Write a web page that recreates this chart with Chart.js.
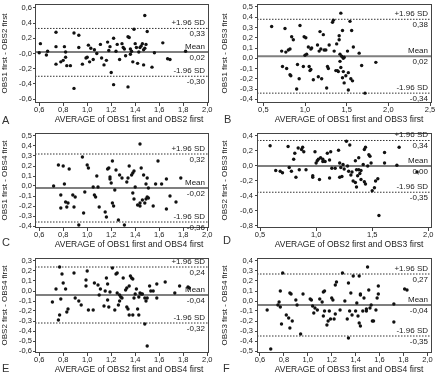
<!DOCTYPE html>
<html>
<head>
<meta charset="utf-8">
<script src="https://cdn.jsdelivr.net/npm/chart.js@4.4.1/dist/chart.umd.min.js"></script>
<style>
  html, body { margin: 0; padding: 0; background: #fff; }
  #wrap { position: relative; width: 440px; height: 378px; overflow: hidden; }
  .cell { position: absolute; width: 220px; height: 125px; }
  .cell canvas { display: block; }
  .tag { position: absolute; font: 11px "Liberation Sans", Arial, sans-serif; line-height: 11px; color: #333; }
</style>
</head>
<body>
<div id="wrap">
  <div class="cell" style="left:0;top:0"><canvas id="cA" width="220" height="125"></canvas></div>
  <div class="cell" style="left:220px;top:0"><canvas id="cB" width="220" height="125"></canvas></div>
  <div class="cell" style="left:0;top:125px"><canvas id="cC" width="220" height="125"></canvas></div>
  <div class="cell" style="left:220px;top:125px"><canvas id="cD" width="220" height="125"></canvas></div>
  <div class="cell" style="left:0;top:250px"><canvas id="cE" width="220" height="125"></canvas></div>
  <div class="cell" style="left:220px;top:250px"><canvas id="cF" width="220" height="125"></canvas></div>
  <div class="tag" style="left:2px;top:115px">A</div>
  <div class="tag" style="left:224px;top:114px">B</div>
  <div class="tag" style="left:2px;top:237px">C</div>
  <div class="tag" style="left:223px;top:235px">D</div>
  <div class="tag" style="left:2px;top:363px">E</div>
  <div class="tag" style="left:223px;top:363px">F</div>
</div>
<script>
// differences vs averages, [average, difference]
const pointsA = [
  [0.61, 0.13], [0.60, 0.01], [0.66, -0.02], [0.67, 0.03], [0.74, 0.28], [0.74, 0.09], [0.74, -0.14],
  [0.78, -0.11], [0.80, -0.09], [0.81, 0.09], [0.82, 0.02], [0.82, -0.05], [0.83, -0.16], [0.86, -0.16],
  [0.89, -0.46], [0.89, 0.27], [0.93, 0.24], [0.93, 0.08], [0.96, -0.14], [0.99, -0.06], [1.00, -0.05],
  [1.01, 0.11], [1.02, -0.11], [1.03, 0.07], [1.05, -0.08], [1.06, 0.05], [1.08, 0.00], [1.11, 0.12],
  [1.12, -0.06], [1.14, -0.15], [1.16, -0.09], [1.17, 0.15], [1.18, 0.04], [1.19, 0.09], [1.20, -0.25],
  [1.22, -0.41], [1.22, 0.20], [1.24, 0.03], [1.25, 0.12], [1.27, -0.08], [1.29, 0.13], [1.30, 0.08],
  [1.31, 0.06], [1.32, -0.03], [1.34, -0.44], [1.34, 0.22], [1.35, 0.21], [1.36, 0.06], [1.36, -0.01],
  [1.37, 0.03], [1.38, -0.11], [1.39, 0.32], [1.40, 0.13], [1.41, 0.08], [1.42, -0.13], [1.43, 0.02],
  [1.44, 0.08], [1.45, 0.10], [1.46, 0.13], [1.47, -0.15], [1.47, 0.05], [1.48, 0.50], [1.48, 0.07],
  [1.49, 0.12], [1.50, 0.29], [1.54, -0.18], [1.56, 0.01], [1.63, 0.14], [1.67, -0.07], [1.69, -0.08],
  [1.82, 0.03]
];
const pointsB = [
  [0.60, 0.31], [0.72, 0.07], [0.73, -0.08], [0.76, 0.29], [0.77, 0.06], [0.78, -0.10], [0.80, 0.08],
  [0.82, 0.09], [0.82, -0.16], [0.83, -0.17], [0.84, 0.21], [0.86, 0.18], [0.90, -0.30], [0.91, -0.06],
  [0.93, -0.20], [0.94, 0.32], [0.98, -0.08], [0.99, 0.21], [1.00, 0.03], [1.01, 0.20], [1.02, 0.04],
  [1.04, 0.11], [1.05, -0.08], [1.06, -0.12], [1.07, 0.09], [1.08, 0.10], [1.07, -0.11], [1.10, -0.21],
  [1.15, 0.13], [1.16, -0.18], [1.17, 0.07], [1.18, 0.26], [1.19, 0.09], [1.20, -0.20], [1.22, 0.23],
  [1.23, 0.08], [1.25, 0.08], [1.26, -0.29], [1.27, -0.08], [1.28, -0.10], [1.29, 0.13], [1.33, 0.35],
  [1.34, 0.37], [1.35, 0.07], [1.37, -0.12], [1.38, 0.14], [1.39, -0.12], [1.40, -0.13], [1.41, 0.22],
  [1.41, 0.18], [1.42, -0.03], [1.42, 0.04], [1.43, 0.44], [1.43, -0.09], [1.44, 0.02], [1.45, 0.27],
  [1.45, -0.19], [1.46, 0.00], [1.46, -0.13], [1.47, 0.01], [1.47, -0.24], [1.49, -0.17], [1.51, 0.07],
  [1.52, -0.14], [1.52, -0.31], [1.54, 0.36], [1.55, -0.20], [1.56, 0.27], [1.57, -0.22], [1.58, 0.11],
  [1.65, 0.05], [1.68, -0.07], [1.72, -0.34], [1.85, -0.04]
];
const pointsC = [
  [0.72, 0.00], [0.76, 0.21], [0.78, -0.09], [0.78, -0.22], [0.80, 0.20], [0.81, 0.02], [0.82, -0.16],
  [0.83, -0.21], [0.84, -0.17], [0.85, 0.17], [0.88, -0.09], [0.89, -0.21], [0.90, -0.11], [0.93, -0.39],
  [0.96, 0.29], [0.97, -0.27], [0.98, -0.06], [1.00, 0.21], [1.01, 0.18], [1.05, -0.01], [1.06, -0.09],
  [1.07, -0.11], [1.08, 0.10], [1.09, -0.01], [1.10, -0.21], [1.15, -0.26], [1.16, -0.31], [1.17, 0.17],
  [1.18, 0.18], [1.19, 0.09], [1.19, 0.07], [1.20, 0.03], [1.21, 0.25], [1.21, -0.17], [1.22, -0.20],
  [1.23, -0.04], [1.24, 0.16], [1.26, -0.34], [1.27, 0.11], [1.29, 0.08], [1.31, -0.39], [1.33, 0.04],
  [1.34, 0.08], [1.35, 0.20], [1.37, 0.11], [1.38, 0.13], [1.38, -0.07], [1.39, -0.13], [1.39, 0.15],
  [1.40, -0.01], [1.42, -0.19], [1.44, 0.42], [1.44, -0.17], [1.44, -0.20], [1.45, 0.18], [1.46, -0.14],
  [1.47, 0.11], [1.48, -0.17], [1.49, 0.02], [1.49, -0.13], [1.50, -0.11], [1.50, 0.08], [1.51, -0.12],
  [1.51, -0.02], [1.55, -0.20], [1.57, 0.02], [1.59, 0.25], [1.62, 0.02], [1.66, 0.07], [1.66, -0.23],
  [1.69, -0.10], [1.74, -0.16], [1.78, 0.08]
];
const pointsD = [
  [0.59, 0.27], [0.64, -0.06], [0.68, -0.07], [0.70, -0.09], [0.75, 0.26], [0.76, -0.02], [0.78, -0.07],
  [0.80, 0.09], [0.81, 0.17], [0.82, -0.15], [0.84, 0.24], [0.85, -0.05], [0.87, 0.22], [0.88, 0.25],
  [0.89, 0.19], [0.91, -0.05], [0.97, -0.13], [0.97, -0.15], [0.99, 0.19], [1.00, 0.04], [1.01, 0.07],
  [1.02, 0.09], [1.03, -0.18], [1.04, 0.11], [1.06, 0.06], [1.06, 0.09], [1.08, 0.06], [1.10, 0.17],
  [1.12, 0.08], [1.12, -0.16], [1.13, 0.19], [1.14, -0.03], [1.17, -0.03], [1.20, 0.21], [1.21, 0.04],
  [1.21, -0.15], [1.22, -0.02], [1.23, -0.14], [1.24, 0.02], [1.25, -0.04], [1.27, 0.33], [1.28, 0.00],
  [1.29, -0.07], [1.30, 0.28], [1.31, -0.12], [1.32, -0.08], [1.33, -0.20], [1.35, 0.07], [1.35, -0.22],
  [1.36, -0.05], [1.36, -0.28], [1.37, -0.13], [1.38, 0.11], [1.38, -0.05], [1.39, -0.10], [1.40, -0.18],
  [1.40, -0.06], [1.42, 0.02], [1.43, -0.21], [1.43, 0.22], [1.44, 0.25], [1.44, -0.24], [1.46, 0.00],
  [1.47, 0.15], [1.48, 0.13], [1.49, 0.04], [1.50, -0.33], [1.52, -0.29], [1.53, -0.20], [1.55, -0.17],
  [1.56, -0.66], [1.61, 0.18], [1.61, 0.04], [1.72, 0.01], [1.74, 0.25], [1.90, -0.08]
];
const pointsE = [
  [0.71, -0.11], [0.74, 0.02], [0.76, -0.29], [0.77, -0.24], [0.77, 0.24], [0.78, -0.08], [0.79, 0.17],
  [0.80, 0.08], [0.82, 0.02], [0.83, -0.21], [0.84, -0.18], [0.89, 0.18], [0.90, -0.07], [0.93, -0.10],
  [0.95, -0.14], [0.99, 0.05], [0.99, 0.11], [1.00, 0.20], [1.01, -0.19], [1.05, -0.19], [1.06, 0.08],
  [1.09, 0.06], [1.10, -0.04], [1.11, 0.02], [1.14, -0.15], [1.15, 0.00], [1.16, 0.13], [1.17, 0.07],
  [1.17, -0.09], [1.18, -0.16], [1.19, -0.01], [1.21, 0.23], [1.23, -0.19], [1.24, 0.17], [1.25, 0.18],
  [1.25, -0.02], [1.26, -0.14], [1.27, -0.04], [1.27, -0.10], [1.28, -0.06], [1.29, -0.07], [1.30, 0.13],
  [1.32, 0.01], [1.33, -0.16], [1.33, 0.03], [1.34, -0.18], [1.35, -0.24], [1.35, 0.05], [1.36, 0.15],
  [1.37, 0.13], [1.38, 0.12], [1.38, -0.24], [1.39, -0.07], [1.40, -0.03], [1.41, 0.02], [1.42, -0.18],
  [1.43, -0.24], [1.43, -0.06], [1.44, -0.02], [1.45, -0.03], [1.46, -0.03], [1.48, -0.33], [1.48, -0.07],
  [1.49, -0.10], [1.50, -0.55], [1.50, -0.07], [1.52, 0.05], [1.53, 0.00], [1.55, 0.00], [1.58, -0.07],
  [1.58, 0.07], [1.65, 0.09], [1.73, -0.02], [1.77, 0.05], [1.84, 0.04], [1.85, 0.03]
];
const pointsF = [
  [0.66, -0.09], [0.69, -0.48], [0.75, -0.04], [0.76, -0.01], [0.77, -0.06], [0.77, 0.10], [0.78, -0.23],
  [0.79, 0.28], [0.82, -0.14], [0.84, -0.17], [0.85, -0.27], [0.85, 0.08], [0.86, 0.07], [0.87, -0.20],
  [0.90, 0.01], [0.91, -0.04], [0.94, -0.33], [0.96, 0.07], [1.02, 0.02], [1.03, 0.01], [1.04, -0.05],
  [1.05, -0.12], [1.06, -0.07], [1.08, -0.09], [1.10, 0.02], [1.12, -0.01], [1.13, -0.15], [1.13, 0.09],
  [1.14, 0.10], [1.14, -0.10], [1.16, -0.24], [1.17, -0.20], [1.18, -0.10], [1.19, -0.18], [1.20, 0.03],
  [1.21, 0.01], [1.22, -0.18], [1.23, -0.13], [1.23, 0.16], [1.24, 0.19], [1.27, -0.09], [1.29, 0.28],
  [1.31, 0.00], [1.33, -0.18], [1.34, -0.37], [1.34, 0.18], [1.35, -0.10], [1.36, 0.08], [1.37, -0.14],
  [1.38, 0.25], [1.40, -0.10], [1.41, -0.02], [1.42, -0.15], [1.43, 0.25], [1.43, -0.22], [1.44, -0.25],
  [1.44, 0.07], [1.44, 0.06], [1.46, -0.10], [1.47, 0.03], [1.49, -0.10], [1.49, -0.08], [1.50, 0.34],
  [1.51, 0.11], [1.52, -0.07], [1.53, -0.04], [1.54, -0.20], [1.55, -0.20], [1.57, -0.09], [1.58, 0.03],
  [1.59, 0.15], [1.59, 0.07], [1.72, -0.21], [1.72, -0.03], [1.81, 0.12], [1.83, 0.11]
];

// [+1.96 SD, mean, -1.96 SD]
const limitsA = [0.33, 0.02, -0.30];
const limitsB = [0.38, 0.02, -0.34];
const limitsC = [0.32, -0.02, -0.36];
const limitsD = [0.34, 0.00, -0.35];
const limitsE = [0.24, -0.04, -0.32];
const limitsF = [0.27, -0.04, -0.35];
const limitNames = ['+1.96 SD', 'Mean', '-1.96 SD'];

const xTicksFine = [0.6, 0.8, 1.0, 1.2, 1.4, 1.6, 1.8, 2.0];
const xTicksB = [0.5, 1.0, 1.5, 2.0, 2.5];
const xTicksD = [0.5, 1.0, 1.5, 2.0];
const yTicksA = [-0.6, -0.4, -0.2, 0, 0.2, 0.4, 0.6];
const yTicksB = [-0.4, -0.3, -0.2, -0.1, 0, 0.1, 0.2, 0.3, 0.4, 0.5];
const yTicksC = [-0.4, -0.3, -0.2, -0.1, 0, 0.1, 0.2, 0.3, 0.4, 0.5];
const yTicksD = [-0.8, -0.6, -0.4, -0.2, 0, 0.2, 0.4];
const yTicksE = [-0.6, -0.5, -0.4, -0.3, -0.2, -0.1, 0, 0.1, 0.2, 0.3];
const yTicksF = [-0.5, -0.4, -0.3, -0.2, -0.1, 0, 0.1, 0.2, 0.3, 0.4];

const FONT = '"Liberation Sans", Arial, sans-serif';
const fmt = (v, d) => v.toFixed(d).replace('.', ',');

const panels = [
  { id: 'cA', pts: pointsA, limits: limitsA, xTicks: xTicksFine, yTicks: yTicksA, zero: '-0,0',
    x: [0.565, 2.015], y: [-0.652, 0.652], left: 35, right: 209, top: 3,
    xTitle: 'AVERAGE of OBS1 first and OBS2 first', yTitle: 'OBS1 first - OBS2 first' },
  { id: 'cB', pts: pointsB, limits: limitsB, xTicks: xTicksB, yTicks: yTicksB, zero: '0,0',
    x: [0.424, 2.524], y: [-0.436, 0.529], left: 37, right: 212, top: 3,
    xTitle: 'AVERAGE of OBS1 first and OBS3 first', yTitle: 'OBS1 first - OBS3 first' },
  { id: 'cC', pts: pointsC, limits: limitsC, xTicks: xTicksFine, yTicks: yTicksC, zero: '0,0',
    x: [0.565, 2.015], y: [-0.42, 0.53], left: 35, right: 209, top: 8,
    xTitle: 'AVERAGE of OBS1 first and OBS4 first', yTitle: 'OBS1 first - OBS4 first' },
  { id: 'cD', pts: pointsD, limits: limitsD, xTicks: xTicksD, yTicks: yTicksD, zero: '0,0',
    x: [0.473, 2.033], y: [-0.827, 0.44], left: 37, right: 212, top: 8,
    xTitle: 'AVERAGE of OBS2 first and OBS3 first', yTitle: 'OBS2 first - OBS3 first' },
  { id: 'cE', pts: pointsE, limits: limitsE, xTicks: xTicksFine, yTicks: yTicksE, zero: '0,0',
    x: [0.565, 2.015], y: [-0.62, 0.33], left: 35, right: 209, top: 8,
    xTitle: 'AVERAGE of OBS2 first and OBS4 first', yTitle: 'OBS2 first - OBS4 first' },
  { id: 'cF', pts: pointsF, limits: limitsF, xTicks: xTicksFine, yTicks: yTicksF, zero: '0,0',
    x: [0.575, 2.039], y: [-0.52, 0.43], left: 37, right: 212, top: 8,
    xTitle: 'AVERAGE of OBS3 first and OBS4 first', yTitle: 'OBS3 first - OBS4 first' }
];

// box, limit labels and x title
const baPlugin = {
  id: 'baLabels',
  afterDatasetsDraw(chart, args, opts) {
    const { ctx, chartArea: a, scales: { y } } = chart;
    ctx.save();
    ctx.strokeStyle = '#444';
    ctx.lineWidth = 1;
    ctx.strokeRect(Math.round(a.left) + 0.5, Math.round(a.top) + 0.5,
      Math.round(a.right - a.left) - 1, Math.round(a.bottom - a.top) - 1);
    ctx.fillStyle = '#1a1a1a';
    ctx.font = '8px ' + FONT;
    ctx.textAlign = 'right';
    ctx.textBaseline = 'middle';
    opts.limits.forEach((v, i) => {
      const py = y.getPixelForValue(v);
      ctx.fillText(limitNames[i], a.right - 4, py - 5.5);
      ctx.fillText(fmt(v, 2), a.right - 4, py + 5.5);
    });
    ctx.textAlign = 'center';
    ctx.font = '8.5px ' + FONT;
    ctx.fillText(opts.xTitle, 129, 120);
    ctx.restore();
  }
};

panels.forEach((p) => {
  const hLine = (v, color, width, dash) => ({
    type: 'scatter',
    showLine: true,
    data: [{ x: p.x[0], y: v }, { x: p.x[1], y: v }],
    borderColor: color,
    borderWidth: width,
    borderDash: dash,
    pointRadius: 0,
    order: 2
  });
  new Chart(document.getElementById(p.id), {
    type: 'scatter',
    plugins: [baPlugin],
    data: {
      datasets: [
        {
          data: p.pts.map(([x, y]) => ({ x, y })),
          backgroundColor: '#111',
          borderWidth: 0,
          pointRadius: 1.7,
          order: 0
        },
        hLine(p.limits[1], '#7f7f7f', 2, []),
        hLine(p.limits[0], '#333', 1, [1.5, 1.5]),
        hLine(p.limits[2], '#333', 1, [1.5, 1.5])
      ]
    },
    options: {
      responsive: false,
      animation: false,
      events: [],
      layout: { padding: { left: 0, top: p.top, right: 220 - p.right, bottom: 0 } },
      plugins: {
        legend: { display: false },
        tooltip: { enabled: false },
        baLabels: { limits: p.limits, xTitle: p.xTitle }
      },
      scales: {
        x: {
          type: 'linear',
          min: p.x[0],
          max: p.x[1],
          afterBuildTicks: (s) => { s.ticks = p.xTicks.map((v) => ({ value: v })); },
          afterFit: (s) => { s.height = 22; s.paddingLeft = 0; s.paddingRight = 0; },
          border: { display: false },
          grid: { drawOnChartArea: false, drawTicks: true, tickLength: 3, color: '#444' },
          ticks: {
            autoSkip: false, maxRotation: 0, padding: -1, color: '#1a1a1a',
            font: { family: FONT, size: 7.5 },
            callback: (v) => fmt(v, 1)
          }
        },
        y: {
          type: 'linear',
          min: p.y[0],
          max: p.y[1],
          afterBuildTicks: (s) => { s.ticks = p.yTicks.map((v) => ({ value: v })); },
          afterFit: (s) => { s.width = p.left; s.paddingTop = 0; s.paddingBottom = 0; },
          border: { display: false },
          grid: { drawOnChartArea: false, drawTicks: true, tickLength: 2, color: '#444' },
          ticks: {
            autoSkip: false, padding: p.left === 35 ? 1 : 2, color: '#1a1a1a',
            font: { family: FONT, size: 7.5 },
            callback: (v) => (Math.abs(v) < 1e-9 ? p.zero : fmt(v, 1))
          },
          title: {
            display: true, text: p.yTitle, color: '#1a1a1a', padding: 0,
            font: { family: FONT, size: 8 }
          }
        }
      }
    }
  });
});
</script>
</body>
</html>
